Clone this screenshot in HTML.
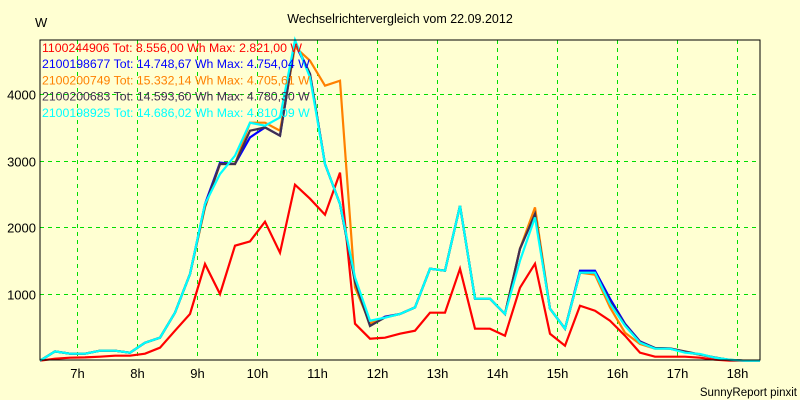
<!DOCTYPE html>
<html><head><meta charset="utf-8"><style>
html,body{margin:0;padding:0;background:#ffffd2;}
svg{display:block;font-family:"Liberation Sans",sans-serif;}
</style></head><body>
<svg id="chart" width="800" height="400">
<rect x="0" y="0" width="800" height="400" fill="#ffffd2"/>
<text x="400" y="23" font-size="12.5" text-anchor="middle">Wechselrichtervergleich vom 22.09.2012</text>
<text x="35" y="27" font-size="13">W</text>
<text x="797" y="396" font-size="11.5" text-anchor="end">SunnyReport pinxit</text>
<g id="grid"></g>
<g id="series"></g>
<rect x="40" y="40" width="720" height="320" fill="none" stroke="#000" stroke-width="1"/>
<g id="axes"></g>
<g id="legend"></g>
</svg>
<script>
const yTicks = [1000, 2000, 3000, 4000];
const xTickHours = [7, 8, 9, 10, 11, 12, 13, 14, 15, 16, 17, 18];
const startHour = 6 + 23/60;
const stepHours = 0.25;
const seriesNames = ["1100244906", "2100198677", "2100200749", "2100200683", "2100198925"];
const legendTexts = [
 "1100244906 Tot: 8.556,00 Wh Max: 2.821,00 W",
 "2100198677 Tot: 14.748,67 Wh Max: 4.754,04 W",
 "2100200749 Tot: 15.332,14 Wh Max: 4.705,61 W",
 "2100200683 Tot: 14.593,60 Wh Max: 4.780,30 W",
 "2100198925 Tot: 14.686,02 Wh Max: 4.810,09 W"];
const seriesColors = ["#ff0000", "#0000ff", "#ff8000", "#403050", "#00ffff"];
const red = [0,30,45,50,60,75,75,105,195,450,700,1450,1000,1725,1790,2085,1620,2640,2430,2190,2821,555,330,345,405,450,720,720,1380,480,480,375,1095,1455,405,225,825,750,600,375,120,60,60,60,45,15,0,0,0];
const blue = [0,140,105,105,150,150,120,270,345,720,1300,2350,2970,2950,3350,3500,3375,4754,4300,2950,2350,1200,540,660,700,800,1380,1350,2325,930,930,700,1680,2200,780,480,1350,1350,930,555,290,190,180,130,90,45,10,0,0];
const orange = [0,140,105,105,150,150,120,270,345,720,1300,2300,2950,2950,3570,3570,3450,4706,4500,4125,4200,1100,560,650,700,800,1380,1350,2325,930,930,700,1680,2300,780,480,1320,1290,800,420,250,180,180,130,90,45,10,0,0];
const dark = [0,140,105,105,150,150,120,270,345,720,1300,2320,2950,2950,3450,3500,3375,4780,4300,2950,2350,1180,520,650,700,800,1380,1350,2325,930,930,700,1680,2200,780,480,1320,1320,880,540,280,190,185,140,95,50,12,0,0];
const cyan = [0,140,105,105,150,150,120,270,345,720,1300,2350,2800,3075,3570,3525,3650,4810,4250,2950,2350,1250,600,645,700,800,1380,1350,2325,930,930,700,1500,2150,780,480,1320,1320,855,525,270,180,180,120,100,45,15,0,0];
const seriesValues = [red, blue, orange, dark, cyan];

const NS = "http://www.w3.org/2000/svg";
function xScale(h){ return 77 + (h - 7) * 60; }
function yScale(v){ return 360.7 - v * 200/3000; }
function mk(tag, attrs, parent){ const e=document.createElementNS(NS,tag); for(const k in attrs) e.setAttribute(k,attrs[k]); parent.appendChild(e); return e; }

const grid=document.getElementById("grid"), axes=document.getElementById("axes"), ser=document.getElementById("series"), leg=document.getElementById("legend");
yTicks.forEach(v=>{
  const y=Math.round(yScale(v))+0.5;
  const l=mk("line",{x1:40,x2:760,y1:y,y2:y,stroke:"#00dd00","stroke-dasharray":"4,4","stroke-width":1},grid);
  
  
  const t=mk("text",{x:36,y:y+5,"font-size":13,"text-anchor":"end"},axes);
  t.textContent=String(v);
  
  
});
xTickHours.forEach(h=>{
  const x=Math.round(xScale(h))+0.5;
  const l=mk("line",{x1:x,x2:x,y1:40,y2:360,stroke:"#00dd00","stroke-dasharray":"4,4","stroke-width":1},grid);
  
  
  const t=mk("text",{x:x,y:378,"font-size":13,"text-anchor":"middle"},axes);
  t.textContent=h+"h";
  
  
});
seriesValues.forEach((vals,si)=>{
  const pts=vals.map((v,i)=>xScale(startHour+i*stepHours).toFixed(1)+","+yScale(v).toFixed(1)).join(" ");
  const p=mk("polyline",{points:pts,fill:"none",stroke:seriesColors[si],"stroke-width":2.2,"stroke-linejoin":"miter"},ser);
  
  
});
legendTexts.forEach((txt,i)=>{
  const t=mk("text",{x:42,y:52+i*16.2,"font-size":12.3,fill:seriesColors[i]},leg);
  t.textContent=txt;
  
  
});
</script>
</body></html>
